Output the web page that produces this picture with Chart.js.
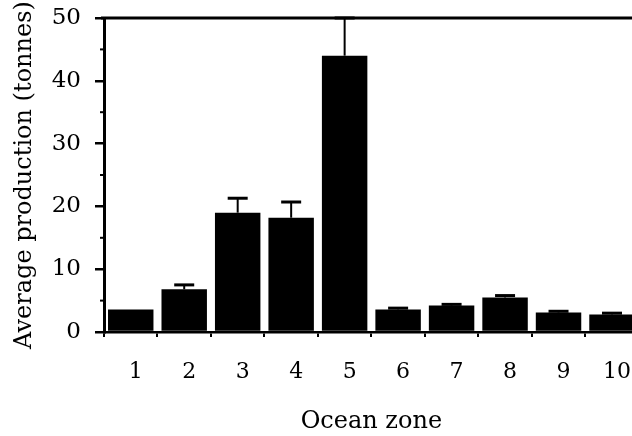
<!DOCTYPE html>
<html>
<head>
<meta charset="utf-8">
<script src="https://cdn.jsdelivr.net/npm/chart.js@4"></script>
<style>
    html, body { margin: 0; padding: 0; background: #fff; overflow: hidden; }
    #wrap { width: 648px; height: 436px; }
</style>
</head>
<body>
<div id="wrap"><canvas id="zoneChart" width="648" height="436"></canvas></div>
<script>
// 数据
const zones = ['1', '2', '3', '4', '5', '6', '7', '8', '9', '10'];
const production = [3.6, 6.8, 19.0, 18.2, 44.0, 3.6, 4.2, 5.5, 3.1, 2.8];
const errorUp = [0, 0.7, 2.3, 2.5, 6.0, 0.2, 0.2, 0.3, 0.2, 0.2];
const yTicks = [0, 10, 20, 30, 40, 50];

const serif = '"DejaVu Serif", "Liberation Serif", serif';

// 误差线 + 顶部边线 + 次刻度
const extras = {
    id: 'extras',
    afterDatasetsDraw(chart) {
        const ctx = chart.ctx;
        const x = chart.scales.x;
        const y = chart.scales.y;
        const area = chart.chartArea;
        ctx.save();
        ctx.strokeStyle = '#000';

        // 误差线（只向上）
        production.forEach((v, i) => {
            if (!errorUp[i]) return;
            const cx = x.getPixelForValue(i);
            const y0 = y.getPixelForValue(v);
            const y1 = y.getPixelForValue(v + errorUp[i]);
            ctx.lineWidth = 2;
            ctx.beginPath();
            ctx.moveTo(cx, y0);
            ctx.lineTo(cx, y1);
            ctx.stroke();
            ctx.lineWidth = 3;
            ctx.beginPath();
            ctx.moveTo(cx - 10, y1);
            ctx.lineTo(cx + 10, y1);
            ctx.stroke();
        });

        // 顶部边线
        ctx.lineWidth = 3;
        ctx.beginPath();
        ctx.moveTo(area.left - 3, area.top);
        ctx.lineTo(area.right + 10, area.top);
        ctx.stroke();

        // 次刻度
        ctx.lineWidth = 2;
        for (let t = 5; t < 50; t += 10) {
            const py = y.getPixelForValue(t);
            ctx.beginPath();
            ctx.moveTo(area.left - 4, py);
            ctx.lineTo(area.left, py);
            ctx.stroke();
        }
        ctx.restore();
    }
};

new Chart(document.getElementById('zoneChart'), {
    type: 'bar',
    data: {
        labels: zones,
        datasets: [{
            data: production,
            backgroundColor: '#000',
            borderWidth: 0,
            barPercentage: 0.85,
            categoryPercentage: 1.0
        }]
    },
    options: {
        responsive: false,
        animation: false,
        layout: { padding: { left: 0, right: 0, top: 18, bottom: 0 } },
        plugins: {
            legend: { display: false },
            tooltip: { enabled: false }
        },
        scales: {
            x: {
                border: { color: '#000', width: 2.5 },
                grid: { drawOnChartArea: false, color: '#000', tickLength: 5, lineWidth: 2 },
                ticks: {
                    color: '#000',
                    font: { family: serif, size: 22 },
                    padding: 22,
                    labelOffset: 5,
                    maxRotation: 0
                },
                title: {
                    display: true,
                    text: 'Ocean zone',
                    color: '#000',
                    font: { family: serif, size: 24 },
                    padding: { top: 4, bottom: 0 }
                },
                afterFit(scale) { scale.height = 104; }
            },
            y: {
                min: 0,
                max: 50,
                border: { color: '#000', width: 3 },
                grid: { drawOnChartArea: false, color: '#000', tickLength: 9, lineWidth: 2.5 },
                afterBuildTicks(scale) {
                    scale.ticks = yTicks.map(v => ({ value: v }));
                },
                ticks: {
                    color: '#000',
                    font: { family: serif, size: 23 },
                    padding: 14
                },
                title: {
                    display: true,
                    text: 'Average production (tonnes)',
                    color: '#000',
                    font: { family: serif, size: 24 },
                    padding: { top: 10, bottom: 0 }
                },
                afterFit(scale) {
                    scale.width = 104;
                    scale.paddingTop = 0;
                    scale.paddingBottom = 0;
                }
            }
        }
    },
    plugins: [extras]
});
</script>
</body>
</html>
